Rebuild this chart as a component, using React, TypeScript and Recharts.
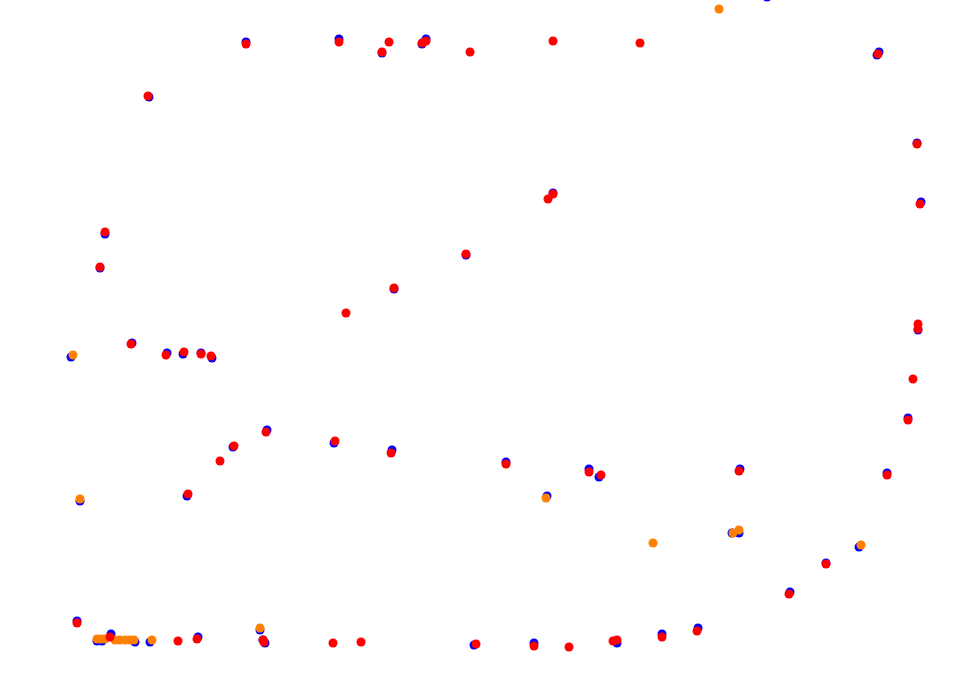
import React from "react";
import { Scatter, ScatterChart, XAxis, YAxis, ZAxis } from "recharts";

type Pt = { x: number; y: number };

// blue series (drawn first, sits under the others)
const bluePoints: Pt[] = [
  { x: 246, y: 42 }, { x: 339, y: 39 }, { x: 382, y: 53 }, { x: 422, y: 44 },
  { x: 426, y: 39 }, { x: 767, y: -3 }, { x: 877, y: 55 }, { x: 879, y: 52 },
  { x: 149, y: 97 }, { x: 917, y: 143 }, { x: 553, y: 193 }, { x: 921, y: 202 },
  { x: 105, y: 234 }, { x: 100, y: 268 }, { x: 466, y: 255 }, { x: 394, y: 289 },
  { x: 132, y: 343 }, { x: 71, y: 357 }, { x: 167, y: 353 }, { x: 183, y: 354 },
  { x: 201, y: 353 }, { x: 212, y: 358 }, { x: 918, y: 330 }, { x: 908, y: 418 },
  { x: 267, y: 430 }, { x: 233, y: 447 }, { x: 334, y: 443 }, { x: 392, y: 450 },
  { x: 506, y: 462 }, { x: 589, y: 469 }, { x: 599, y: 477 }, { x: 740, y: 469 },
  { x: 887, y: 473 }, { x: 187, y: 496 }, { x: 80, y: 501 }, { x: 547, y: 496 },
  { x: 732, y: 533 }, { x: 739, y: 533 }, { x: 859, y: 547 }, { x: 826, y: 563 },
  { x: 790, y: 592 }, { x: 77, y: 621 }, { x: 698, y: 628 }, { x: 662, y: 634 },
  { x: 617, y: 643 }, { x: 534, y: 643 }, { x: 474, y: 645 }, { x: 265, y: 643 },
  { x: 263, y: 640 }, { x: 260, y: 630 }, { x: 198, y: 637 }, { x: 150, y: 642 },
  { x: 135, y: 642 }, { x: 111, y: 634 }, { x: 102, y: 641 }, { x: 97, y: 641 },
];

// orange series
const orangePoints: Pt[] = [
  { x: 719, y: 9 }, { x: 73, y: 355 }, { x: 80, y: 499 }, { x: 546, y: 498 },
  { x: 653, y: 543 }, { x: 733, y: 533 }, { x: 739, y: 530 }, { x: 861, y: 545 },
  { x: 260, y: 628 }, { x: 152, y: 640 }, { x: 97, y: 639 }, { x: 101, y: 639 },
  { x: 105, y: 639 }, { x: 115, y: 640 }, { x: 120, y: 640 }, { x: 125, y: 640 },
  { x: 130, y: 640 }, { x: 134, y: 640 },
];

// red series (drawn last)
const redPoints: Pt[] = [
  { x: 246, y: 44 }, { x: 339, y: 42 }, { x: 382, y: 52 }, { x: 389, y: 42 },
  { x: 422, y: 43 }, { x: 426, y: 41 }, { x: 470, y: 52 }, { x: 553, y: 41 },
  { x: 640, y: 43 }, { x: 878, y: 54 }, { x: 148, y: 96 }, { x: 917, y: 144 },
  { x: 548, y: 199 }, { x: 553, y: 194 }, { x: 920, y: 204 }, { x: 105, y: 232 },
  { x: 100, y: 267 }, { x: 466, y: 254 }, { x: 394, y: 288 }, { x: 346, y: 313 },
  { x: 131, y: 344 }, { x: 166, y: 355 }, { x: 184, y: 352 }, { x: 201, y: 354 },
  { x: 211, y: 356 }, { x: 918, y: 324 }, { x: 918, y: 329 }, { x: 913, y: 379 },
  { x: 908, y: 420 }, { x: 266, y: 432 }, { x: 234, y: 446 }, { x: 220, y: 461 },
  { x: 335, y: 441 }, { x: 391, y: 453 }, { x: 506, y: 464 }, { x: 589, y: 472 },
  { x: 601, y: 475 }, { x: 739, y: 471 }, { x: 887, y: 475 }, { x: 188, y: 494 },
  { x: 826, y: 564 }, { x: 789, y: 594 }, { x: 77, y: 623 }, { x: 697, y: 631 },
  { x: 662, y: 637 }, { x: 613, y: 641 }, { x: 617, y: 640 }, { x: 569, y: 647 },
  { x: 534, y: 646 }, { x: 476, y: 644 }, { x: 361, y: 642 }, { x: 333, y: 643 },
  { x: 264, y: 642 }, { x: 263, y: 640 }, { x: 197, y: 639 }, { x: 178, y: 641 },
  { x: 110, y: 637 },
];

const App = () => {
  return (
    <div style={{ position: "absolute", left: 0, top: 0 }}>
      <ScatterChart
        width={962}
        height={684}
        margin={{ top: 0, right: 0, left: 0, bottom: 0 }}
      >
        <XAxis type="number" dataKey="x" domain={[0, 962]} allowDataOverflow hide />
        <YAxis
          type="number"
          dataKey="y"
          domain={[0, 684]}
          reversed
          allowDataOverflow
          hide
        />
        <ZAxis range={[64, 64]} />
        <Scatter data={bluePoints} fill="#0000ff" isAnimationActive={false} />
        <Scatter data={orangePoints} fill="#ff8000" isAnimationActive={false} />
        <Scatter data={redPoints} fill="#ff0000" isAnimationActive={false} />
      </ScatterChart>
    </div>
  );
};

export default App;
